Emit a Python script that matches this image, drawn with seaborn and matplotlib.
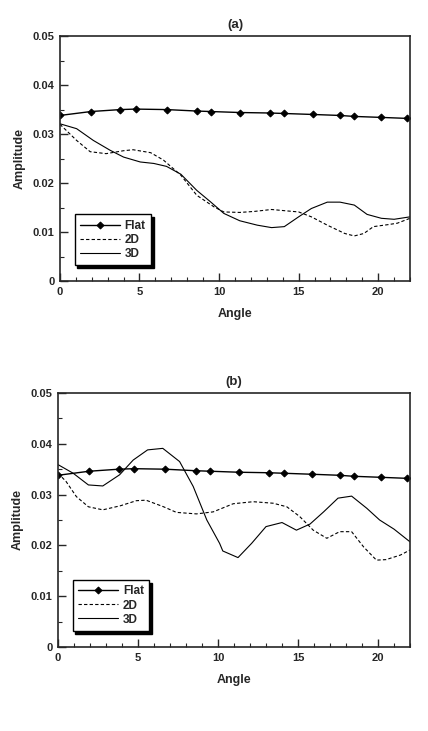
import matplotlib as mpl
mpl.use('Agg')
import matplotlib.pyplot as plt
from matplotlib.ticker import MultipleLocator, FuncFormatter
import numpy as np
import pandas as pd
import seaborn as sns

# Flat plate, same in both panels
flat_angle = [0, 1.95, 3.8, 4.75, 6.7, 8.6, 9.5, 11.3, 13.2, 14.1, 15.9, 17.6, 18.5, 20.2, 21.8]
flat_amp = [0.0338, 0.0346, 0.0350, 0.0351, 0.0350, 0.0347, 0.0346, 0.0344, 0.0343,
            0.0342, 0.0340, 0.0338, 0.0336, 0.0334, 0.0332]

# panel (a)
a2d_angle = [0, 1.05, 1.9, 2.9, 4.0, 4.6, 5.7, 6.5, 7.6, 8.6, 9.7, 10.3, 11.3, 12.2, 13.3,
             14.3, 15.0, 15.8, 16.8, 17.9, 18.5, 19.1, 19.7, 20.6, 21.2, 22.0]
a2d_amp = [0.0320, 0.0287, 0.0264, 0.0260, 0.0266, 0.0268, 0.0262, 0.0247, 0.0216, 0.0175,
           0.0151, 0.0141, 0.0140, 0.0142, 0.0146, 0.0143, 0.0141, 0.0131, 0.0114, 0.0097,
           0.0092, 0.0097, 0.0111, 0.0115, 0.0118, 0.0128]
a3d_angle = [0, 1.05, 2.1, 3.15, 4.0, 5.05, 5.9, 6.7, 7.6, 8.6, 9.45, 10.3, 11.3, 12.4, 13.3,
             14.1, 15.0, 15.8, 16.8, 17.6, 18.5, 19.3, 20.2, 21.0, 22.0]
a3d_amp = [0.0321, 0.0311, 0.0287, 0.0267, 0.0253, 0.0243, 0.0240, 0.0234, 0.0218, 0.0185,
           0.0162, 0.0138, 0.0123, 0.0114, 0.0109, 0.0111, 0.0131, 0.0148, 0.0161, 0.0161,
           0.0155, 0.0136, 0.0128, 0.0126, 0.0131]

# panel (b)
b2d_angle = [0, 0.5, 1.15, 1.9, 2.8, 3.9, 4.9, 5.5, 6.6, 7.4, 8.65, 9.7, 10.95, 12.2, 13.45,
             14.3, 15.1, 15.95, 16.8, 17.6, 18.35, 19.1, 19.9, 20.5, 21.4, 22.0]
b2d_amp = [0.0342, 0.0326, 0.0296, 0.0276, 0.0270, 0.0278, 0.0288, 0.0289, 0.0276, 0.0265,
           0.0262, 0.0266, 0.0282, 0.0286, 0.0283, 0.0276, 0.0257, 0.0230, 0.0214, 0.0227,
           0.0227, 0.0197, 0.0171, 0.0172, 0.0181, 0.0191]
b3d_angle = [0, 0.95, 1.9, 2.8, 3.85, 4.7, 5.6, 6.55, 7.6, 8.45, 9.3, 10.1, 10.3, 11.25, 12.1,
             13.0, 14.0, 14.9, 15.75, 16.6, 17.5, 18.35, 19.3, 20.1, 21.0, 22.0]
b3d_amp = [0.0359, 0.0342, 0.0319, 0.0317, 0.0339, 0.0368, 0.0388, 0.0391, 0.0365, 0.0316,
           0.0250, 0.0204, 0.0189, 0.0176, 0.0204, 0.0237, 0.0245, 0.0230, 0.0242, 0.0266,
           0.0293, 0.0297, 0.0273, 0.0250, 0.0232, 0.0207]

panels = [
    ('(a)', a2d_angle, a2d_amp, a3d_angle, a3d_amp),
    ('(b)', b2d_angle, b2d_amp, b3d_angle, b3d_amp),
]

sns.set_style('ticks')
plt.rcParams['font.family'] = ['Liberation Sans', 'DejaVu Sans']
plt.rcParams['font.weight'] = 'bold'

fig = plt.figure(figsize=(4.28, 7.31), dpi=100)
boxes = [[0.140, 0.6156, 0.818, 0.335], [0.1355, 0.1149, 0.8225, 0.3475]]


def fmt(v, pos):
    return '0' if abs(v) < 1e-9 else '%.2f' % v


for box, (title, x2, y2, x3, y3) in zip(boxes, panels):
    ax = fig.add_axes(box)
    flat = pd.DataFrame({'Angle': flat_angle, 'Amplitude': flat_amp})
    d2 = pd.DataFrame({'Angle': x2, 'Amplitude': y2})
    d3 = pd.DataFrame({'Angle': x3, 'Amplitude': y3})

    sns.lineplot(data=flat, x='Angle', y='Amplitude', ax=ax, color='black', lw=1.0,
                 marker='D', markersize=3.5, markeredgecolor='black', label='Flat')
    sns.lineplot(data=d2, x='Angle', y='Amplitude', ax=ax, color='black', lw=0.8,
                 linestyle=(0, (3, 2)), label='2D')
    sns.lineplot(data=d3, x='Angle', y='Amplitude', ax=ax, color='black', lw=0.8,
                 label='3D')

    ax.set_xlim(0, 22)
    ax.set_ylim(0, 0.05)
    ax.xaxis.set_major_locator(MultipleLocator(5))
    ax.xaxis.set_minor_locator(MultipleLocator(1))
    ax.yaxis.set_major_locator(MultipleLocator(0.01))
    ax.yaxis.set_minor_locator(MultipleLocator(0.005))
    ax.yaxis.set_major_formatter(FuncFormatter(fmt))
    ax.tick_params(which='major', direction='in', length=6, width=1, labelsize=8, pad=4)
    ax.tick_params(which='minor', direction='in', length=3, width=0.8)
    for lab in ax.get_xticklabels() + ax.get_yticklabels():
        lab.set_fontweight('bold')
    for s in ax.spines.values():
        s.set_linewidth(1.2)
        s.set_visible(True)

    ax.set_xlabel('Angle', fontsize=9, fontweight='bold', labelpad=8)
    ax.set_ylabel('Amplitude', fontsize=9, fontweight='bold', labelpad=5)
    ax.set_title(title, fontsize=9.5, fontweight='bold', pad=6)

    leg = ax.legend(loc='lower left', bbox_to_anchor=(0.025, 0.04), frameon=True,
                    fancybox=False, shadow={'color': 'black', 'alpha': 1},
                    fontsize=8.5, handlelength=3.4, borderpad=0.45, labelspacing=0.18,
                    handletextpad=0.4)
    leg.get_frame().set_edgecolor('black')
    leg.get_frame().set_linewidth(1.0)
    for t in leg.get_texts():
        t.set_fontweight('bold')

fig.savefig('out.png', dpi=100)
